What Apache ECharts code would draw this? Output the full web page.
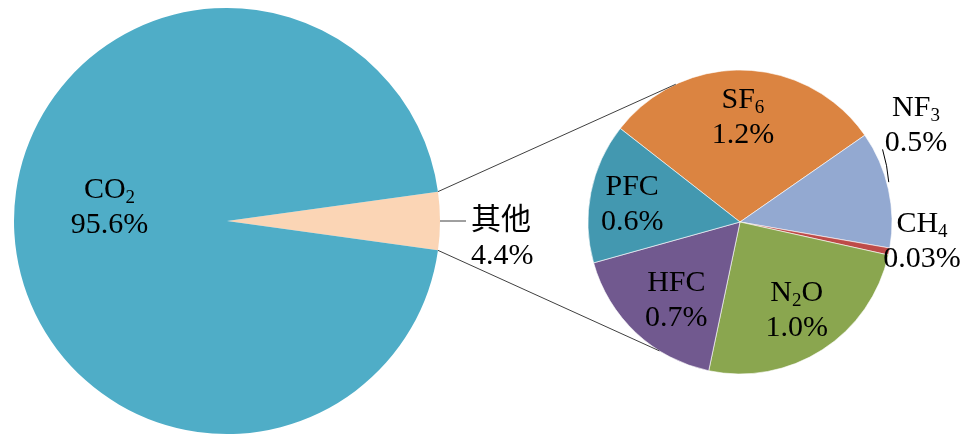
<!DOCTYPE html>
<html><head><meta charset="utf-8">
<script src="https://cdn.jsdelivr.net/npm/echarts@6/dist/echarts.min.js"></script>
<style>html,body{margin:0;padding:0;background:#fff}#c{width:967px;height:437px}</style>
</head><body><div id="c"></div>
<script>
// ---- data ----
const mainNames = ['其他', 'CO2'];
const mainValues = [4.4, 95.6];
const subNames = ['SF6', 'NF3', 'CH4', 'N2O', 'HFC', 'PFC'];
const subValues = [1.2, 0.5, 0.03, 1.0, 0.7, 0.6];

// ---- styling / layout ----
const mainColors = ['#FBD5B5', '#4FADC7'];
const subColors = ['#DB8441', '#93A9D1', '#BE4B48', '#8AA64F', '#71598F', '#4398B0'];
const FONT = "'Liberation Serif','Times New Roman','Noto Sans CJK SC',serif";
const LC = [227, 221], LR = 213;
const RC = [740, 222], RR = 152;
const subStartAngle = 142;
const connectorAngles = [115, 238];
const insideSub = ['SF6', 'N2O', 'HFC', 'PFC'];

function pct(v) { return (v < 0.1 ? v.toFixed(2) : v.toFixed(1)) + '%'; }
function richName(name) {
  let out = '', buf = '';
  for (const ch of name) {
    if (/\d/.test(ch)) { if (buf) { out += '{n|' + buf + '}'; buf = ''; } out += '{s|' + ch + '}'; }
    else buf += ch;
  }
  if (buf) out += '{n|' + buf + '}';
  return out;
}
const rich = {
  n: { fontFamily: FONT, fontSize: 30, lineHeight: 35, color: '#000' },
  s: { fontFamily: FONT, fontSize: 19, lineHeight: 14, verticalAlign: 'bottom', color: '#000' },
  p: { fontFamily: FONT, fontSize: 30, lineHeight: 35, color: '#000' }
};
function fmt(p) { return richName(p.name) + '\n{p|' + pct(p.value) + '}'; }

const mainSum = mainValues.reduce((a, b) => a + b, 0);
const mainStart = mainValues[0] / mainSum * 180;
const rad = d => d * Math.PI / 180;
function edge(c, r, a) { return [c[0] + r * Math.cos(rad(a)), c[1] - r * Math.sin(rad(a))]; }
const p1 = edge(LC, LR, mainStart), q1 = edge(RC, RR, connectorAngles[0]);
const p2 = edge(LC, LR, -mainStart), q2 = edge(RC, RR, connectorAngles[1]);

const chart = echarts.init(document.getElementById('c'), null, { renderer: 'canvas' });
chart.setOption({
  backgroundColor: '#fff',
  animation: false,
  graphic: [
    { type: 'line', z: 10, shape: { x1: p1[0], y1: p1[1], x2: q1[0], y2: q1[1] }, style: { stroke: '#404040', lineWidth: 1 } },
    { type: 'line', z: 10, shape: { x1: p2[0], y1: p2[1], x2: q2[0], y2: q2[1] }, style: { stroke: '#404040', lineWidth: 1 } }
  ],
  series: [
    {
      type: 'pie', center: LC, radius: [0, LR], startAngle: mainStart, clockwise: true,
      silent: true, avoidLabelOverlap: false,
      itemStyle: { borderWidth: 0 },
      label: { formatter: fmt, rich: rich },
      labelLine: { show: true, length: 14, length2: 12, lineStyle: { color: '#404040', width: 1 } },
      data: mainNames.map((n, i) => ({
        name: n, value: mainValues[i], itemStyle: { color: mainColors[i] },
        label: i === 0 ? { position: 'outside', padding: [35, 0, 0, 0] } : { position: 'inside' }
      })),
      labelLayout: function (p) {
        if (p.dataIndex === 1) return { dx: -8, dy: -13 };
      }
    },
    {
      type: 'pie', center: RC, radius: [0, RR], startAngle: subStartAngle, clockwise: true,
      silent: true, avoidLabelOverlap: false,
      itemStyle: { borderColor: '#fff', borderWidth: 0.6 },
      label: { formatter: fmt, rich: rich, position: 'outside', align: 'center' },
      data: subNames.map((n, i) => ({
        name: n, value: subValues[i], itemStyle: { color: subColors[i] },
        label: { show: insideSub.indexOf(n) < 0 },
        labelLine: { show: n === 'NF3', length: 4, length2: 0, lineStyle: { color: '#000', width: 1 } }
      })),
      labelLayout: function (p) {
        if (p.dataIndex === 1) return {
          x: RC[0] + 176, y: RC[1] - 96, align: 'center', verticalAlign: 'middle',
          labelLinePoints: [edge(RC, RR + 2, 15), edge(RC, RR + 5, 21), edge(RC, RR + 8, 27)]
        };
        if (p.dataIndex === 2) return { x: RC[0] + 182, y: RC[1] + 20, align: 'center', verticalAlign: 'middle' };
      }
    },
    {
      type: 'pie', center: RC, radius: [0, RR * 1.34], startAngle: subStartAngle, clockwise: true,
      silent: true, avoidLabelOverlap: false, z: 3,
      itemStyle: { color: 'rgba(0,0,0,0)' },
      label: { formatter: fmt, rich: rich, position: 'inside' },
      labelLine: { show: false },
      data: subNames.map((n, i) => ({
        name: n, value: subValues[i],
        label: { show: insideSub.indexOf(n) >= 0 }
      })),
      labelLayout: function (p) {
        if (p.dataIndex === 4) return { dx: 8, dy: 2 };
        if (p.dataIndex === 5) return { dx: -5, dy: 3 };
      }
    }
  ]
});
</script>
</body></html>
